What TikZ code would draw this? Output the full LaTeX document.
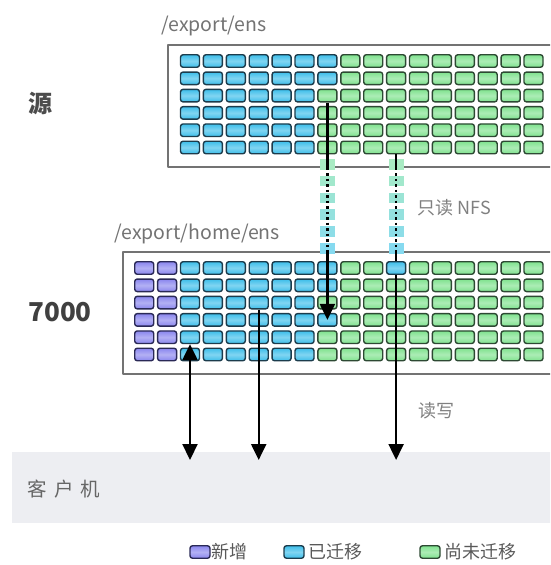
\documentclass[tikz,border=0pt]{standalone}
\usepackage{fontspec}
\setmainfont{Noto Sans CJK SC}
\usetikzlibrary{arrows.meta,positioning}
\definecolor{yiC}{HTML}{3DBEEA}
\definecolor{yiD}{HTML}{1C3C4C}
\definecolor{weiC}{HTML}{7FE28E}
\definecolor{weiD}{HTML}{2D4933}
\definecolor{xinC}{HTML}{8A86EE}
\definecolor{xinD}{HTML}{2A2956}
\definecolor{taoG}{HTML}{A9EBC3}
\definecolor{taoC}{HTML}{86DAF0}
\definecolor{kehu}{HTML}{EDEEF2}
\begin{document}
\begin{tikzpicture}[x=1pt, y=-1pt, line join=round,
  cell/.style={rounded corners=2.5pt, minimum width=19pt, minimum height=12.5pt, inner sep=0pt, line width=1.4pt},
  xin/.style={cell, draw=xinD, top color=xinC, bottom color=xinC, middle color=xinC!65!white},
  yi/.style={cell, draw=yiD, top color=yiC, bottom color=yiC, middle color=yiC!65!white},
  wei/.style={cell, draw=weiD, top color=weiC, bottom color=weiC, middle color=weiC!65!white},
  pan/.style={draw=black!55, line width=1.5pt, inner sep=0pt, anchor=north west, minimum height=122pt},
  lujing/.style={text=black!55, font=\fontsize{19.5}{22}\selectfont, anchor=west},
  biao/.style={text=black!50, font=\fontsize{18}{20}\selectfont, anchor=west},
  xian/.style={line width=2.2pt},
  xu/.style={line width=2.4pt, dash pattern=on 2.5pt off 3pt},
  jt/.style={-{Triangle[width=15pt,length=16pt]}},
  sjt/.style={{Triangle[width=15pt,length=16pt]}-{Triangle[width=15pt,length=16pt]}}]
  \clip (0,0) rectangle (550,565);

  % 客户机
  \node[fill=kehu, minimum width=548pt, minimum height=71pt, inner sep=0pt, anchor=north west] (client) at (12,452) {};
  \node[biao, text=black!60, font=\fontsize{19.5}{22}\selectfont] (n-client) at (24,489) {客\hspace{7pt}户\hspace{7pt}机};

  % 两个文件系统
  \node[pan, minimum width=400pt] (src) at (167,44) {};
  \node[pan, minimum width=445pt] (dst) at (122,251) {};
  \node[lujing] (p-src) at (158,26) {/export/ens};
  \node[lujing] (p-dst) at (111,234) {/export/home/ens};
  \node[text=black!70, font=\fontsize{24}{26}\selectfont\bfseries] (n-src) at (40,103) {源};
  \node[text=black!75, font=\fontsize{26}{28}\selectfont\bfseries] (n-7000) at (60,312) {7000};

  % 源：/export/ens
  \foreach \r in {1,...,6}
    \foreach \c in {1,...,16}{
      \pgfmathtruncatemacro\k{(\c<7 || (\c==7 && \r<3)) ? 1 : 0}
      \ifcase\k \def\kind{wei}\or \def\kind{yi}\fi
      \node[\kind] (s-\r-\c) at ({190+22.9*(\c-1)}, {61+17.3*(\r-1)}) {};
    }

  % 7000：/export/home/ens
  \foreach \r in {1,...,6}
    \foreach \c in {1,...,18}{
      \pgfmathtruncatemacro\k{\c<3 ? 2 : ((\c<9 || (\c==9 && (\r<3 || \r==4)) || (\c==12 && \r==1)) ? 1 : 0)}
      \ifcase\k \def\kind{wei}\or \def\kind{yi}\or \def\kind{xin}\fi
      \node[\kind] (t-\r-\c) at ({190+22.9*(\c-3)}, {268+17.3*(\r-1)}) {};
    }

  % 只读 NFS 通道
  \foreach \x in {s-3-7, s-6-10}
    \foreach \i in {0,...,5}{
      \pgfmathtruncatemacro\p{100-20*\i}
      \fill[taoG!\p!taoC] (\x |- 0,{159+16.8*\i}) ++(-7.5,0) rectangle ++(15,10.5);
    }
  \node[biao] (n-nfs) at (414,208) {只读 NFS};

  \draw[xian] (s-3-7.south) -- (s-3-7 |- src.south);
  \draw[xu] (s-3-7 |- src.south) -- (t-4-9 |- dst.north);
  \draw[xian, jt] (t-4-9 |- dst.north) -- (t-4-9.center);

  \draw[xian] (s-6-10.south) -- (s-6-10 |- src.south);
  \draw[xu] (s-6-10 |- src.south) -- (t-1-12 |- dst.north);
  \draw[xian] (t-1-12 |- dst.north) -- (t-1-12.north);

  % 读写
  \draw[xian, jt, shorten >=-8pt] (t-1-12.south) -- (t-1-12 |- client.north);
  \draw[xian, jt, shorten >=-8pt] (t-3-6.south) -- (t-3-6 |- client.north);
  \draw[xian, sjt, shorten >=-8pt] (t-5-3.south) -- (t-5-3 |- client.north);
  \node[biao] (n-rw) at (415,411) {读写};

  % 图例
  \node[xin, minimum width=20pt] (lg-xin) at (200,552) {};
  \node[biao, text=black!65, right=1pt of lg-xin, inner sep=0pt] (t-xin) {新增};
  \node[yi, minimum width=20pt] (lg-yi) at (294,552) {};
  \node[biao, text=black!65, right=4pt of lg-yi, inner sep=0pt] (t-yi) {已迁移};
  \node[wei, minimum width=20pt] (lg-wei) at (430,552) {};
  \node[biao, text=black!65, right=4pt of lg-wei, inner sep=0pt] (t-wei) {尚未迁移};
\end{tikzpicture}
\end{document}
